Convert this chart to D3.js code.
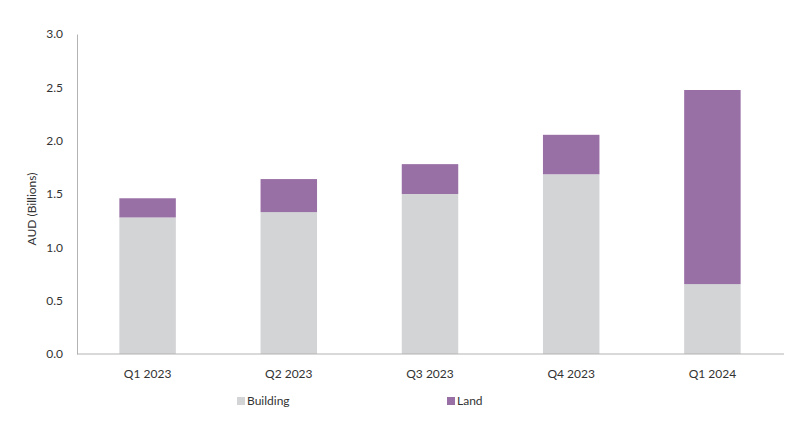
<!DOCTYPE html>
<html>
<head>
<meta charset="utf-8">
<script src="https://cdn.jsdelivr.net/npm/d3@7"></script>
<style>
  html, body { margin: 0; padding: 0; background: #fff; }
  text { font-family: Lato, "Open Sans", sans-serif; fill: #333; }
</style>
</head>
<body>
<svg id="chart" width="800" height="431"></svg>
<script>
const categories = ["Q1 2023", "Q2 2023", "Q3 2023", "Q4 2023", "Q1 2024"];
const building = [1.28, 1.33, 1.50, 1.685, 0.655];
const land = [0.18, 0.31, 0.28, 0.37, 1.82];
const seriesNames = ["Building", "Land"];
const seriesColors = ["#d3d4d6", "#9970a6"];
const yTicks = [0, 0.5, 1.0, 1.5, 2.0, 2.5, 3.0];

const svg = d3.select("#chart");
const margin = {left: 77, right: 17, top: 34, bottom: 77};
const W = 800, H = 431;

const x = d3.scaleBand().domain(categories).range([margin.left, W - margin.right]).paddingInner(0.6).paddingOuter(0.3);
const y = d3.scaleLinear().domain([0, 3]).range([H - margin.bottom, margin.top]);

const rows = categories.map((c, i) => ({cat: c, Building: building[i], Land: land[i]}));
const stack = d3.stack().keys(seriesNames)(rows);

svg.append("g").selectAll("g").data(stack).join("g")
  .attr("fill", (d, i) => seriesColors[i])
  .selectAll("rect").data(d => d).join("rect")
  .attr("x", d => x(d.data.cat))
  .attr("width", x.bandwidth())
  .attr("y", d => y(d[1]))
  .attr("height", d => y(d[0]) - y(d[1]));

// y axis
const yAxis = svg.append("g").attr("transform", `translate(${margin.left},0)`)
  .call(d3.axisLeft(y).tickValues(yTicks).tickFormat(d3.format(".1f")).tickSize(0).tickPadding(14));
yAxis.select(".domain").attr("stroke", "#b3b3b3");
yAxis.selectAll("text").style("font-size", "12px").attr("fill", "#333");

// x axis
const xAxis = svg.append("g").attr("transform", `translate(0,${y(0)})`)
  .call(d3.axisBottom(x).tickSize(0).tickPadding(15));
xAxis.select(".domain").attr("stroke", "#b3b3b3").attr("d", `M${margin.left},0H${W - margin.right + 1}`);
xAxis.selectAll("text").style("font-size", "12px").attr("fill", "#333");

// y title
svg.append("text")
  .attr("transform", `translate(36,${(y(0) + y(3)) / 2 + 15}) rotate(-90)`)
  .attr("text-anchor", "middle")
  .style("font-size", "12px")
  .text("AUD (Billions)");

// legend
const legendX = [237, 447];
const legend = svg.append("g").selectAll("g").data(seriesNames).join("g")
  .attr("transform", (d, i) => `translate(${legendX[i]},401)`);
legend.append("rect").attr("x", 0).attr("y", -4).attr("width", 8).attr("height", 8)
  .attr("fill", (d, i) => seriesColors[i]);
legend.append("text").attr("x", 10).attr("y", 0).attr("dy", "0.35em")
  .style("font-size", "12px").text(d => d);
</script>
</body>
</html>
